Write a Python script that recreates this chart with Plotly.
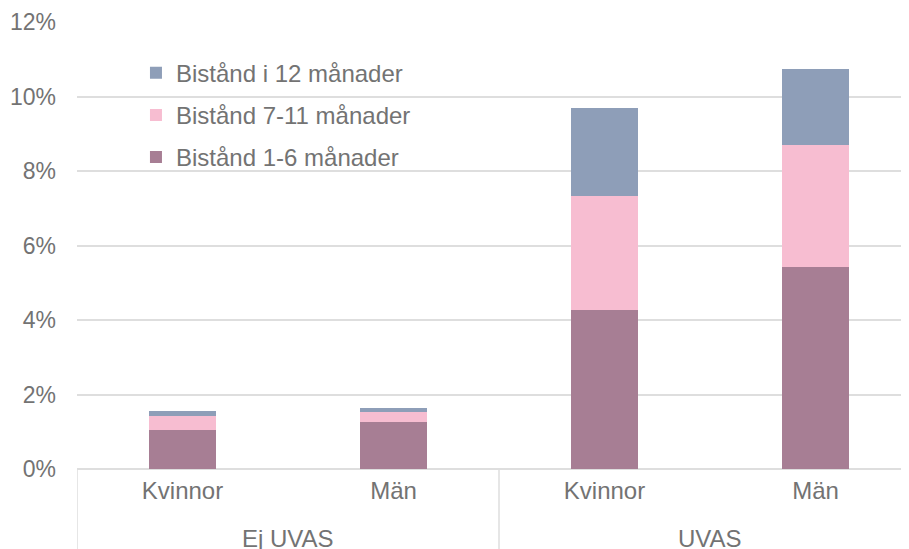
import plotly.graph_objects as go

groups = ["Ej UVAS", "Ej UVAS", "UVAS", "UVAS"]
genders = ["Kvinnor", "Män", "Kvinnor", "Män"]
group_names = ["Ej UVAS", "UVAS"]
series_names = ["Bistånd 1-6 månader", "Bistånd 7-11 månader", "Bistånd i 12 månader"]
v_1_6 = [1.05, 1.25, 4.28, 5.41]
v_7_11 = [0.36, 0.29, 3.05, 3.28]
v_12 = [0.14, 0.10, 2.35, 2.06]
colors = ["#A77E94", "#F7BDD1", "#8E9EB8"]
y_tickvals = [0, 2, 4, 6, 8, 10, 12]
y_ticktext = ["0%", "2%", "4%", "6%", "8%", "10%", "12%"]

font_color = "#737373"
grid_color = "#DEDEDE"
FS = 24
FS_Y = 23

cats = [f"{g}|{s}" for g, s in zip(groups, genders)]

fig = go.Figure()
n_series = len(series_names)
for i, (name, vals, col) in enumerate(zip(series_names, [v_1_6, v_7_11, v_12], colors)):
    fig.add_trace(go.Bar(
        x=cats, y=vals, name=name, legendgroup=name,
        legendrank=1000 + (n_series - i),
        marker=dict(color=col, line=dict(width=0)),
    ))

# group labels and dividers (positions in category index units)
n_per_group = 2
for gi, gname in enumerate(group_names):
    center = gi * n_per_group + (n_per_group - 1) / 2
    fig.add_annotation(x=center, xref="x", y=0, yref="paper", yanchor="top",
                       yshift=-54, text=gname, showarrow=False,
                       font=dict(size=FS, color=font_color))
    left = gi * n_per_group - 0.5
    fig.add_shape(type="line", xref="x", yref="paper", x0=left, x1=left,
                  y0=0, y1=-0.25, line=dict(color=grid_color, width=1.5))

fig.update_layout(
    width=909, height=549,
    barmode="stack", bargap=0.687,
    plot_bgcolor="white", paper_bgcolor="white",
    margin=dict(l=69, r=0, t=14, b=88),
    font=dict(family="Liberation Sans, Arial, sans-serif", size=FS, color=font_color),
    legend=dict(
        x=0.0702, y=0.936, xanchor="left", yanchor="top",
        traceorder="grouped", tracegroupgap=8,
        font=dict(size=FS, color=font_color),
        bgcolor="rgba(0,0,0,0)", itemwidth=30,
    ),
    xaxis=dict(
        type="category", categoryorder="array", categoryarray=cats,
        range=[-0.5, 3.481], automargin=False,
        tickvals=cats, ticktext=genders,
        showline=False, showgrid=False, ticks="", ticklabelstandoff=5,
        tickfont=dict(size=FS, color=font_color),
    ),
    yaxis=dict(
        range=[0, 12], tickvals=y_tickvals, ticktext=y_ticktext, automargin=False,
        showgrid=True, gridcolor=grid_color, gridwidth=2,
        zeroline=True, zerolinecolor=grid_color, zerolinewidth=2,
        showline=False, ticks="", ticklabelstandoff=20,
        tickfont=dict(size=FS_Y, color=font_color),
    ),
)

fig.write_html("out.html")
